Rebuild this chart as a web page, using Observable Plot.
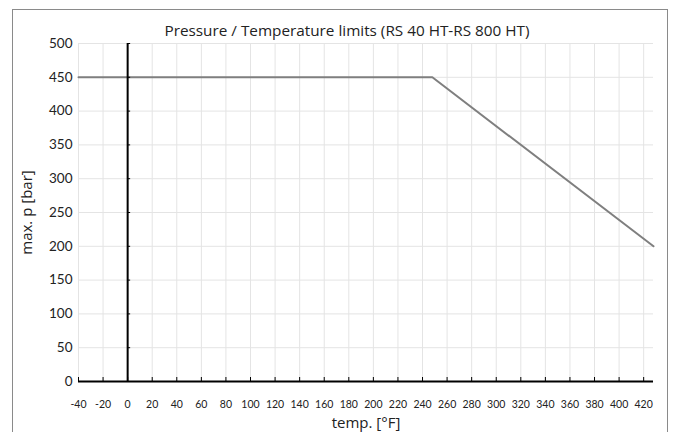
<!DOCTYPE html>
<html>
<head>
<meta charset="utf-8">
<script src="https://cdn.jsdelivr.net/npm/d3@7"></script>
<script src="https://cdn.jsdelivr.net/npm/@observablehq/plot@0.6"></script>
<style>
  html, body { margin: 0; padding: 0; background: #fff; }
  #chart { width: 678px; height: 432px; }
</style>
</head>
<body>
<div id="chart"></div>
<script>
const title = "Pressure / Temperature limits (RS 40 HT-RS 800 HT)";
const xLabel = "temp. [°F]";
const yLabel = "max. p [bar]";
const tempF = [-40, 248, 428];
const pressureBar = [450, 450, 200];
const xTicks = [-40, -20, 0, 20, 40, 60, 80, 100, 120, 140, 160, 180, 200, 220, 240, 260, 280, 300, 320, 340, 360, 380, 400, 420];
const yTicks = [0, 50, 100, 150, 200, 250, 300, 350, 400, 450, 500];

const data = tempF.map((t, i) => ({t, p: pressureBar[i]}));
const font = "Lato, 'Open Sans', sans-serif";
const labelFont = "'Open Sans', Lato, sans-serif";

const chart = Plot.plot({
  width: 678,
  height: 432,
  marginLeft: 78,
  marginRight: 25,
  marginTop: 43,
  marginBottom: 51,
  style: {fontFamily: font, color: "#222", background: "#fff"},
  x: {domain: [-40, 428], ticks: xTicks, tickFormat: d => String(d)},
  y: {domain: [0, 500], ticks: yTicks, tickFormat: d => String(d)},
  marks: [
    Plot.gridX(xTicks, {stroke: "#e4e4e4", strokeOpacity: 1, strokeWidth: 1}),
    Plot.gridY(yTicks, {stroke: "#e4e4e4", strokeOpacity: 1, strokeWidth: 1}),
    Plot.axisX({ticks: xTicks, tickSize: 0, tickPadding: 19, fontSize: 10.5, tickFormat: d => String(d), label: xLabel, labelAnchor: "center", labelArrow: "none", labelOffset: 46}),
    Plot.axisY({ticks: yTicks, tickSize: 0, tickPadding: 6, fontSize: 13.5, tickFormat: d => String(d), label: yLabel, labelAnchor: "center", labelArrow: "none", labelOffset: 57}),
    Plot.line(data, {x: "t", y: "p", stroke: "#7f7f7f", strokeWidth: 2}),
    Plot.ruleX([0], {y1: 0, y2: 500, stroke: "#000", strokeWidth: 2}),
    Plot.ruleY([0], {x1: -40, x2: 428, stroke: "#000", strokeWidth: 2}),
    Plot.ruleX(xTicks, {x: d => d, y1: 0, y2: 0, insetTop: -4, stroke: "#000", strokeWidth: 1}),
    Plot.ruleY(yTicks, {y: d => d, x1: 0, x2: 0, insetRight: -3, stroke: "#000", strokeWidth: 1}),
    Plot.text([title], {frameAnchor: "top", dx: -19, dy: -12, lineAnchor: "middle", fontSize: 15.3, fontFamily: labelFont, fill: "#222"})
  ]
});

d3.select(chart).selectAll("[aria-label='x-axis label'] text, [aria-label='y-axis label'] text")
  .style("font-size", "15px").style("font-family", labelFont);
d3.select(chart).append("rect")
  .attr("x", 12.5).attr("y", 9.5).attr("width", 655).attr("height", 440)
  .attr("fill", "none").attr("stroke", "#8a8a8a").attr("stroke-width", 1);

document.getElementById("chart").appendChild(chart);
</script>
</body>
</html>
